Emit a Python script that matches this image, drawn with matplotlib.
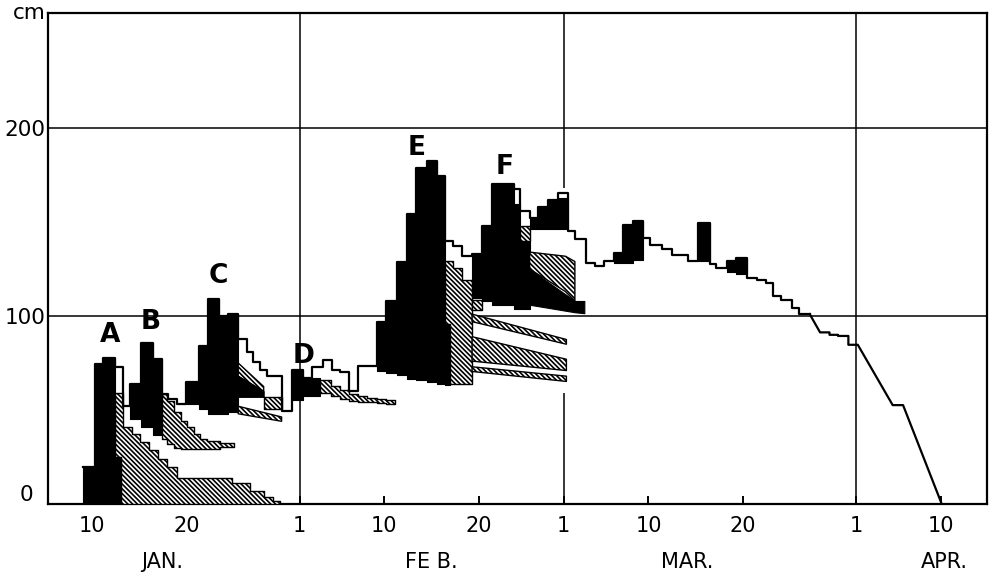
import numpy as np
import matplotlib.pyplot as plt

plt.rcParams['hatch.linewidth'] = 1.2

# x = day of year (1 = Jan 1), y = snow depth in cm

# total snow depth, stepwise: each value holds from one edge to the next
depth_edges = [9.0, 10.3, 11.2, 12.4, 13.3, 14.0, 15.2, 16.5, 17.4, 18.1, 19.0,
               20.0, 21.3, 22.3, 23.5, 24.4, 25.5, 26.4, 27.1, 27.8, 28.5, 30.1,
               31.2, 32.4, 33.3, 34.5, 35.4, 36.3, 37.2, 38.2, 40.2, 41.2, 42.3,
               43.4, 44.4, 45.5, 46.6, 47.4, 48.3, 49.2, 50.3, 51.3, 52.4, 54.7,
               55.4, 56.4, 57.3, 58.4, 59.4, 60.5, 61.2, 62.4, 63.3, 64.3, 65.3,
               66.3, 67.4, 68.4, 69.2, 70.4, 71.5, 73.2, 74.3, 75.5, 76.2, 77.3,
               78.3, 79.4, 80.5, 81.5, 82.2, 83.1, 84.2, 85.0, 86.1]
depth_cm = [19.8, 74.5, 77.6, 72.7, 52.3, 63.8, 85.5, 77.0, 58.5, 55.8,
            53.0, 64.7, 84.2, 109.0, 100.0, 101.0, 87.8, 80.7, 75.4, 71.3, 68.3,
            49.6, 71.4, 67.0, 73.0, 76.4, 71.4, 70.0, 59.9, 73.4, 96.7, 108.2,
            128.7, 154.4, 178.7, 182.7, 174.7, 140.0, 137.5, 132.0, 132.8, 147.9,
            170.3, 167.7, 155.8, 152.0, 158.0, 161.5, 165.6, 145.3, 141.0, 128.0,
            126.5, 129.5, 133.6, 148.6, 150.4, 141.6, 138.0, 135.7, 132.4, 129.2,
            149.3, 127.8, 125.5, 129.4, 131.1, 120.4, 119.2, 117.5, 110.5, 108.7,
            104.4, 101.0]
# end of the season, read point by point down to melt-out
late_day = [86.1, 87.2, 88.2, 88.2, 89.1, 89.1, 90.2, 90.2, 91.2, 94.9, 96.0, 100.1]
late_cm = [101.0, 91.3, 91.3, 90.0, 90.0, 89.4, 89.4, 84.7, 84.7, 52.6, 52.6, 0.0]

# black = new snow of each fall, hatched = those layers as they settle
a_new_edges = [9.0, 10.3, 11.2, 12.4, 13.1]
a_new_lo = [0, 0, 0, 0]
a_new_hi = [19.8, 74.5, 77.6, 24.8]
a_old_edges = [12.4, 13.1, 13.3, 14.2, 15.1, 16.0, 17.0, 18.0, 19.0, 24.8, 26.7,
               28.2, 29.2, 29.9]
a_old_lo = [24.8, 0, 0, 0, 0, 0, 0, 0, 0, 0, 0, 0, 0]
a_old_hi = [59.3, 59.3, 41, 37, 33, 28.5, 24, 19.5, 13.7, 11, 7, 3.5, 1.4]

b_new_edges = [14.0, 15.2, 16.5, 17.4]
b_new_lo = [45, 41, 36.5]
b_new_hi = [63.8, 85.5, 77.0]
b_old_edges = [17.4, 18.0, 18.7, 19.4, 20.1, 20.8, 21.5, 22.2, 23.6, 25.1]
b_old_lo = [34.6, 32, 30, 29.3, 29, 29, 29, 29.5, 30.5]
b_old_hi = [58.5, 55, 49, 44.3, 40.8, 37.2, 34.5, 33.5, 32.5]

c_new_edges = [20.0, 21.3, 22.3, 23.5, 24.4, 25.5]
c_new_lo = [53.2, 50.5, 47.9, 47.9, 49.0]
c_new_hi = [64.7, 84.2, 109.0, 100.0, 101.0]
c_band_day = [25.5, 28.2]
c_upper_lo = [68, 60]
c_upper_hi = [75, 62.5]
c_wedge_lo = [57, 57]
c_block_edges = [28.2, 30.1]
c_block_lo = [50.5]
c_block_hi = [57.0]
c_lower_day = [25.5, 30.1]
c_lower_lo = [48, 44]
c_lower_hi = [52, 46.3]

d_new_edges = [31.2, 32.4, 34.2]
d_new_lo = [55.4, 57.2]
d_new_hi = [71.4, 67.0]
d_old_edges = [34.2, 35.3, 36.3, 37.2, 38.2, 39.2, 40.2, 41.2, 42.1]
d_old_lo = [59, 57.5, 56, 55, 54.5, 54, 53.5, 53]
d_old_hi = [66, 63, 60.5, 58.5, 57.5, 56.5, 56, 55.5]

e_new_edges = [40.2, 41.2, 42.3, 43.4, 44.4, 45.5, 46.6, 47.4, 48.0]
e_new_lo = [71, 69.8, 68.4, 66.6, 65.7, 64.8, 63.9, 63.5]
e_new_hi = [96.7, 108.2, 128.7, 154.4, 178.7, 182.7, 174.7, 96.0]
e_old_edges = [47.4, 48.0, 48.3, 49.2, 50.3]
e_old_lo = [96, 64, 64, 64]
e_old_hi = [129.5, 129.5, 125.8, 119.0]
e_band_day = [50.3, 60.3]
e_upper_lo = [97, 85]
e_upper_hi = [101, 87.5]
e_mid_lo = [76, 71]
e_mid_hi = [89, 77]
e_low_lo = [70.5, 65.2]
e_low_hi = [73, 68]
e_block_edges = [50.3, 51.3]
e_block_lo = [103.0]
e_block_hi = [108.5]

f_new_edges = [50.3, 51.3, 52.4, 54.7, 55.4, 56.4]
f_new_lo = [109.7, 108, 106, 104, 104]
f_new_hi = [132.8, 147.9, 170.3, 159.4, 140.0]
f_sliver_edges = [55.4, 56.4]
f_sliver_lo = [140.0]
f_sliver_hi = [147.9]
f_old_day = [56.4, 60.2, 61.2]
f_old_lo = [125, 113, 108]
f_old_hi = [134, 131.8, 129]
f_wedge_day = [56.4, 61.2, 62.2]
f_wedge_lo = [106, 102, 101.5]
f_wedge_hi = [125, 108, 108]
f2_new_edges = [56.4, 57.3, 58.4, 59.4, 60.5]
f2_new_lo = [146.3, 146.3, 146.3, 146.3]
f2_new_hi = [152.0, 158.0, 161.5, 163.0]

# small falls in March
m1_edges = [65.3, 66.3, 67.4, 68.4]
m1_lo = [128.3, 128.3, 130.0]
m1_hi = [133.6, 148.6, 150.4]
m2_edges = [74.3, 75.5]
m2_lo = [129.2]
m2_hi = [149.3]
m3_edges = [77.3, 78.3, 79.4]
m3_lo = [123.2, 122.3]
m3_hi = [129.4, 131.1]

tick_days = [10, 20, 32, 41, 51, 60, 69, 79, 91, 100]
tick_labels = ['10', '20', '1', '10', '20', '1', '10', '20', '1', '10']
# month boundaries; the March line is hidden behind the snow marks
month_starts = [32, 60, 60, 91]
month_line_lo = [0, 0, 168, 0]
month_line_hi = [261.2, 59, 261.2, 261.2]
months = ['JAN.', 'FE B.', 'MAR.', 'APR.']
month_day = [17.4, 46.0, 73.1, 100.4]
falls = ['A', 'B', 'C', 'D', 'E', 'F']
fall_day = [11.9, 16.25, 23.4, 32.4, 44.4, 53.8]
fall_cm = [86.1, 93.2, 117.7, 75.2, 185.5, 175.4]

HATCH = '\\\\\\\\\\\\\\'


def stairs(edges, vals):
    x = np.repeat(np.asarray(edges, float), 2)[1:-1]
    y = np.repeat(np.asarray(vals, float), 2)
    return x, y


def black(x, y0, y1):
    ax.fill_between(x, y0, y1, facecolor='black', edgecolor='black',
                    linewidth=0.8, zorder=3)


def new_snow(edges, lo, hi):
    x, y0 = stairs(edges, lo)
    _, y1 = stairs(edges, hi)
    black(x, y0, y1)


def settled(x, y0, y1):
    ax.fill_between(x, y0, y1, facecolor='white', edgecolor='black',
                    hatch=HATCH, linewidth=1.0, zorder=3)


def settled_steps(edges, lo, hi):
    x, y0 = stairs(edges, lo)
    _, y1 = stairs(edges, hi)
    settled(x, y0, y1)


fig = plt.figure(figsize=(10.01, 5.84), dpi=100)
ax = fig.add_axes([48 / 1001, 80 / 584, 939 / 1001, 491 / 584])

for y in [100, 200]:
    ax.axhline(y, color='black', lw=1.1, zorder=1)
ax.vlines(month_starts, month_line_lo, month_line_hi, color='black', lw=1.1,
          zorder=1)

settled_steps(a_old_edges, a_old_lo, a_old_hi)
new_snow(a_new_edges, a_new_lo, a_new_hi)
new_snow(b_new_edges, b_new_lo, b_new_hi)
settled_steps(b_old_edges, b_old_lo, b_old_hi)
new_snow(c_new_edges, c_new_lo, c_new_hi)
settled(c_band_day, c_upper_lo, c_upper_hi)
black(c_band_day, c_wedge_lo, c_upper_lo)
settled_steps(c_block_edges, c_block_lo, c_block_hi)
settled(c_lower_day, c_lower_lo, c_lower_hi)
new_snow(d_new_edges, d_new_lo, d_new_hi)
settled_steps(d_old_edges, d_old_lo, d_old_hi)
new_snow(e_new_edges, e_new_lo, e_new_hi)
settled_steps(e_old_edges, e_old_lo, e_old_hi)
settled(e_band_day, e_upper_lo, e_upper_hi)
settled(e_band_day, e_mid_lo, e_mid_hi)
settled(e_band_day, e_low_lo, e_low_hi)
settled_steps(e_block_edges, e_block_lo, e_block_hi)
new_snow(f_new_edges, f_new_lo, f_new_hi)
settled_steps(f_sliver_edges, f_sliver_lo, f_sliver_hi)
black(f_wedge_day, f_wedge_lo, f_wedge_hi)
settled(f_old_day, f_old_lo, f_old_hi)
new_snow(f2_new_edges, f2_new_lo, f2_new_hi)
new_snow(m1_edges, m1_lo, m1_hi)
new_snow(m2_edges, m2_lo, m2_hi)
new_snow(m3_edges, m3_lo, m3_hi)

sx, sy = stairs(depth_edges, depth_cm)
ax.plot(sx, sy, color='black', lw=1.6, zorder=4)
ax.plot(late_day, late_cm, color='black', lw=1.6, zorder=4)

for name, d, h in zip(falls, fall_day, fall_cm):
    ax.text(d, h, name, ha='center', va='baseline', fontsize=19,
            fontweight='bold', zorder=5)

ax.set_xlim(5.33, 104.9)
ax.set_ylim(0, 261.2)
ax.set_xticks(tick_days)
ax.set_xticklabels(tick_labels)
ax.set_yticks([100, 200])
ax.set_yticklabels(['100', '200'])
ax.tick_params(axis='x', direction='in', length=6, width=1.4, pad=9,
               labelsize=15)
ax.tick_params(axis='y', length=0, pad=2, labelsize=15.5)
for s in ax.spines.values():
    s.set_linewidth(1.6)

trans = ax.get_xaxis_transform()
for m, d in zip(months, month_day):
    ax.text(d, -0.118, m, transform=trans, ha='center', va='center',
            fontsize=15)
ax.text(-0.016, 4.8, '0', transform=ax.get_yaxis_transform(), ha='right',
        va='center', fontsize=15.5)
ax.text(-0.002, 1.0, 'cm', transform=ax.transAxes, ha='right', va='center',
        fontsize=15.5)

fig.savefig('out.png', dpi=100)
